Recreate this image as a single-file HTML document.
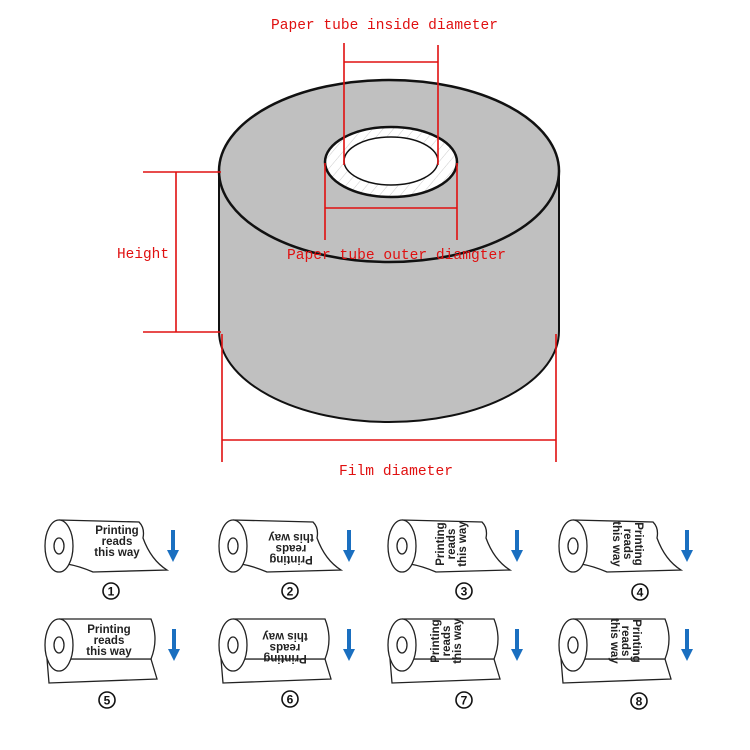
<!DOCTYPE html>
<html><head><meta charset="utf-8"><style>
html,body{margin:0;padding:0;background:#fff;}
svg{display:block}
.r{font-family:"Liberation Mono","WenQuanYi Zen Hei",monospace;font-size:15px;fill:#e01010}
.t{font-family:"Liberation Sans",sans-serif;font-size:11.5px;font-weight:bold;fill:#222;text-anchor:middle}
.n{font-family:"Liberation Sans",sans-serif;font-size:12px;font-weight:bold;fill:#111;text-anchor:middle}
.c{fill:none;stroke:#111;stroke-width:1.6}
</style></head><body>
<svg width="750" height="750" viewBox="0 0 750 750" xmlns="http://www.w3.org/2000/svg">
<defs>
<pattern id="h" width="8" height="8" patternUnits="userSpaceOnUse" patternTransform="rotate(40)">
<rect width="8" height="8" fill="#fff"/><line x1="0" y1="0" x2="0" y2="8" stroke="#ccc" stroke-width="1"/></pattern>
<g id="A" fill="#fff" stroke="#222" stroke-width="1.3">
<path d="M0,-26 L80,-24 Q86,-18 84,-8 Q92,14 108,24 L34,26 Q20,20 8,18"/>
<ellipse cx="0" cy="0" rx="14" ry="26"/>
<ellipse cx="0" cy="0" rx="5" ry="8"/>
</g>
<g id="B" fill="#fff" stroke="#222" stroke-width="1.3">
<path d="M-12,14 L-10,38 L98,34 L92,14 Z"/>
<path d="M0,-26 L92,-26 Q100,-6 92,14 L0,14"/>
<ellipse cx="0" cy="0" rx="14" ry="26"/>
<ellipse cx="0" cy="0" rx="5" ry="8"/>
</g>
<g id="ar"><rect x="-2" y="-16" width="4" height="22" fill="#1a6fc0"/><path d="M-6,4 L6,4 L0,16 Z" fill="#1a6fc0"/></g>
</defs>

<path d="M219,171 L219,331 A170,91 0 0 0 559,331 L559,171 Z" fill="#c0c0c0" stroke="#111" stroke-width="2"/>
<ellipse cx="389" cy="171" rx="170" ry="91" fill="#c0c0c0" stroke="#111" stroke-width="2.5"/>
<ellipse cx="391" cy="162" rx="66" ry="35" fill="url(#h)" stroke="#111" stroke-width="2.5"/>
<ellipse cx="391" cy="161" rx="47" ry="24" fill="#fff" stroke="#111" stroke-width="1.5"/>

<g stroke="#e01010" stroke-width="1.6" fill="none">
<path d="M344,43 V165 M438,45 V165 M344,62 H438"/>
<path d="M325,163 V240 M457,163 V240 M325,208 H457"/>
<path d="M143,172 H221 M143,332 H221 M176,172 V332"/>
<path d="M222,334 V462 M556,334 V462 M222,440 H556"/>
</g>
<text class="r" x="271" y="29" textLength="227" lengthAdjust="spacingAndGlyphs">Paper tube inside diameter</text>
<text class="r" x="287" y="259" textLength="219" lengthAdjust="spacingAndGlyphs">Paper tube outer diamgter</text>
<text class="r" x="117" y="258" textLength="52" lengthAdjust="spacingAndGlyphs">Height</text>
<text class="r" x="339" y="475" textLength="114" lengthAdjust="spacingAndGlyphs">Film diameter</text>

<g transform="translate(59,546)"><use href="#A"/><text class="t" x="58" y="-12">Printing</text><text class="t" x="58" y="-1">reads</text><text class="t" x="58" y="10">this way</text><use href="#ar" x="114" y="0"/><circle class="c" cx="52" cy="45" r="8"/><text class="n" x="52" y="49.5">1</text></g>
<g transform="translate(233,546)"><use href="#A"/><g transform="rotate(180 58 -1)"><text class="t" x="58" y="-12">Printing</text><text class="t" x="58" y="-1">reads</text><text class="t" x="58" y="10">this way</text></g><use href="#ar" x="116" y="0"/><circle class="c" cx="57" cy="45" r="8"/><text class="n" x="57" y="49.5">2</text></g>
<g transform="translate(402,546)"><use href="#A"/><g transform="rotate(-90 52 -2)"><text class="t" x="52" y="-12">Printing</text><text class="t" x="52" y="-1">reads</text><text class="t" x="52" y="10">this way</text></g><use href="#ar" x="115" y="0"/><circle class="c" cx="62" cy="45" r="8"/><text class="n" x="62" y="49.5">3</text></g>
<g transform="translate(573,546)"><use href="#A"/><g transform="rotate(90 52 -2)"><text class="t" x="52" y="-12">Printing</text><text class="t" x="52" y="-1">reads</text><text class="t" x="52" y="10">this way</text></g><use href="#ar" x="114" y="0"/><circle class="c" cx="67" cy="46" r="8"/><text class="n" x="67" y="50.5">4</text></g>

<g transform="translate(59,645)"><use href="#B"/><text class="t" x="50" y="-12">Printing</text><text class="t" x="50" y="-1">reads</text><text class="t" x="50" y="10">this way</text><use href="#ar" x="115" y="0"/><circle class="c" cx="48" cy="55" r="8"/><text class="n" x="48" y="59.5">5</text></g>
<g transform="translate(233,645)"><use href="#B"/><g transform="rotate(180 52 -1)"><text class="t" x="52" y="-12">Printing</text><text class="t" x="52" y="-1">reads</text><text class="t" x="52" y="10">this way</text></g><use href="#ar" x="116" y="0"/><circle class="c" cx="57" cy="54" r="8"/><text class="n" x="57" y="58.5">6</text></g>
<g transform="translate(402,645)"><use href="#B"/><g transform="rotate(-90 45 -4)"><text class="t" x="45" y="-12">Printing</text><text class="t" x="45" y="-1">reads</text><text class="t" x="45" y="10">this way</text></g><use href="#ar" x="115" y="0"/><circle class="c" cx="62" cy="55" r="8"/><text class="n" x="62" y="59.5">7</text></g>
<g transform="translate(573,645)"><use href="#B"/><g transform="rotate(90 52 -4)"><text class="t" x="52" y="-12">Printing</text><text class="t" x="52" y="-1">reads</text><text class="t" x="52" y="10">this way</text></g><use href="#ar" x="114" y="0"/><circle class="c" cx="66" cy="56" r="8"/><text class="n" x="66" y="60.5">8</text></g>
</svg>
</body></html>
